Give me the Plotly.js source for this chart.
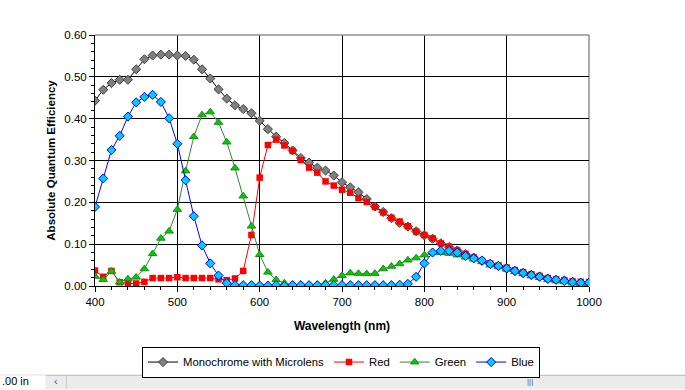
<!DOCTYPE html>
<html>
<head>
<meta charset="utf-8">
<script src="https://cdn.plot.ly/plotly-3.0.1.min.js"></script>
<style>html,body{margin:0;padding:0;background:#fff;}#chart{width:685px;height:390px;}</style>
</head>
<body>
<div id="chart"></div>
<script>
const wavelength = [400,410,420,430,440,450,460,470,480,490,500,510,520,530,540,550,560,570,580,590,600,610,620,630,640,650,660,670,680,690,700,710,720,730,740,750,760,770,780,790,800,810,820,830,840,850,860,870,880,890,900,910,920,930,940,950,960,970,980,990,1000];

const mono = [0.443,0.469,0.485,0.493,0.493,0.518,0.542,0.551,0.553,0.553,0.551,0.550,0.541,0.518,0.496,0.470,0.448,0.432,0.423,0.413,0.395,0.375,0.357,0.342,0.324,0.306,0.295,0.283,0.276,0.264,0.248,0.236,0.224,0.208,0.190,0.177,0.162,0.151,0.142,0.131,0.121,0.113,0.102,0.093,0.085,0.076,0.068,0.060,0.053,0.048,0.042,0.036,0.031,0.027,0.023,0.018,0.015,0.013,0.010,0.008,0.008];

const red = [0.037,0.022,0.036,0.009,0.006,0.006,0.010,0.019,0.019,0.019,0.021,0.019,0.019,0.019,0.019,0.016,0.014,0.018,0.036,0.122,0.259,0.337,0.350,0.336,0.323,0.301,0.283,0.271,0.250,0.240,0.230,0.223,0.210,0.201,0.189,0.176,0.163,0.154,0.143,0.130,0.122,0.114,0.102,0.094,0.085,0.077,0.068,0.060,0.054,0.049,0.044,0.038,0.033,0.028,0.024,0.019,0.016,0.014,0.011,0.010,0.009];

const green = [0.023,0.015,0.035,0.009,0.017,0.021,0.041,0.077,0.114,0.131,0.183,0.275,0.357,0.409,0.416,0.391,0.344,0.282,0.215,0.143,0.075,0.033,0.015,0.007,0.003,0.002,0.002,0.003,0.007,0.016,0.025,0.031,0.030,0.029,0.030,0.041,0.047,0.053,0.062,0.067,0.074,0.080,0.080,0.078,0.074,0.069,0.064,0.058,0.050,0.046,0.040,0.034,0.029,0.024,0.020,0.015,0.012,0.010,0.007,0.005,0.005];

const blue = [0.189,0.257,0.325,0.359,0.405,0.439,0.452,0.457,0.440,0.401,0.340,0.253,0.167,0.097,0.054,0.025,0.007,0.002,0.002,0.002,0.001,0.001,0.002,0.000,0.002,0.002,0.002,0.002,0.002,0.002,0.002,0.002,0.002,0.002,0.002,0.002,0.002,0.003,0.005,0.022,0.054,0.080,0.084,0.084,0.080,0.072,0.066,0.061,0.053,0.048,0.042,0.036,0.031,0.026,0.022,0.017,0.015,0.012,0.009,0.008,0.008];

const seriesNames = ["Monochrome with Microlens","Red","Green","Blue"];
const xTitle = "Wavelength (nm)";
const yTitle = "Absolute Quantum Efficiency";

const FONT = "Liberation Sans, Arial, sans-serif";

const traces = [
  {x: wavelength, y: mono, name: seriesNames[0], type:'scatter', mode:'lines+markers',
   line:{color:'#000000', width:1},
   marker:{symbol:'diamond', size:7, color:'#808080', line:{color:'#404040', width:1}}},
  {x: wavelength, y: red, name: seriesNames[1], type:'scatter', mode:'lines+markers',
   line:{color:'#ff0000', width:1},
   marker:{symbol:'square', size:6.5, color:'#ff0000', line:{color:'#ff0000', width:0}}},
  {x: wavelength, y: green, name: seriesNames[2], type:'scatter', mode:'lines+markers',
   line:{color:'#2e8b2e', width:1},
   marker:{symbol:'triangle-up', size:7.5, color:'#00cc00', line:{color:'#1a8a1a', width:1}}},
  {x: wavelength, y: blue, name: seriesNames[3], type:'scatter', mode:'lines+markers',
   line:{color:'#0000ff', width:1},
   marker:{symbol:'diamond', size:7, color:'#00ccff', line:{color:'#0000ff', width:1}}}
];

const layout = {
  width:685, height:390,
  margin:{l:95, r:96, t:35, b:102},
  paper_bgcolor:'#ffffff', plot_bgcolor:'#ffffff',
  font:{family:FONT, size:11.5, color:'#000000'},
  showlegend:true,
  hovermode:false,
  xaxis:{
    range:[400,1000], dtick:100, tick0:400,
    showgrid:true, gridcolor:'#000000', gridwidth:1,
    zeroline:false, showline:true, linecolor:'#000000', linewidth:1,
    ticks:'outside', ticklen:5, tickcolor:'#000000',
    minor:{dtick:20, ticks:'outside', ticklen:3, tickcolor:'#000000', showgrid:false},
    tickfont:{family:FONT, size:11.5},
    title:{text:xTitle, font:{family:FONT, size:12, weight:'bold'}, standoff:14}
  },
  yaxis:{
    range:[0,0.6], dtick:0.1, tick0:0, tickformat:'.2f',
    showgrid:true, gridcolor:'#000000', gridwidth:1,
    zeroline:false, showline:true, linecolor:'#000000', linewidth:1,
    ticks:'outside', ticklen:5, tickcolor:'#000000',
    minor:{dtick:0.02, ticks:'outside', ticklen:3, tickcolor:'#000000', showgrid:false},
    tickfont:{family:FONT, size:11.5},
    title:{text:yTitle, font:{family:FONT, size:11.5, weight:'bold'}, standoff:6}
  },
  legend:{
    orientation:'h', x:0.498, xanchor:'center', y:-0.303, yanchor:'middle',
    bordercolor:'#000000', borderwidth:1, bgcolor:'#ffffff',
    font:{family:FONT, size:11.3}, itemwidth:30, tracegroupgap:0
  },
  shapes:[
    {type:'line', xref:'paper', yref:'paper', x0:0, x1:1, y0:1, y1:1, line:{color:'#909090', width:1.5}, layer:'above'},
    {type:'line', xref:'paper', yref:'paper', x0:1, x1:1, y0:0, y1:1, line:{color:'#909090', width:1.5}, layer:'below'},
    {type:'rect', xref:'paper', yref:'paper', x0:-0.2, x1:1.2, y0:-0.3557, y1:-0.41, fillcolor:'#ececec', line:{width:0}, layer:'above'},
    {type:'line', xref:'paper', yref:'paper', x0:-0.2, x1:1.2, y0:-0.3557, y1:-0.3557, line:{color:'#b8b8b8', width:1}, layer:'above'},
    {type:'rect', xref:'paper', yref:'paper', x0:-0.2, x1:-0.1, y0:-0.3557, y1:-0.41, fillcolor:'#ffffff', line:{width:0}, layer:'above'},
    {type:'line', xref:'paper', yref:'paper', x0:-0.058, x1:-0.058, y0:-0.3557, y1:-0.41, line:{color:'#c8c8c8', width:1}, layer:'above'}
  ],
  annotations:[
    {xref:'paper', yref:'paper', x:-0.193, y:-0.38, xanchor:'left', yanchor:'middle', text:'.00 in', showarrow:false, font:{family:FONT, size:11, color:'#000000'}},
    {xref:'paper', yref:'paper', x:-0.078, y:-0.38, xanchor:'center', yanchor:'middle', text:'‹', showarrow:false, font:{family:FONT, size:11, color:'#555555'}},
    {xref:'paper', yref:'paper', x:0.88, y:-0.38, xanchor:'center', yanchor:'middle', text:'|||', showarrow:false, font:{family:FONT, size:8, color:'#555555'}}
  ]
};

Plotly.newPlot('chart', traces, layout, {staticPlot:true, displayModeBar:false});
</script>
</body>
</html>
